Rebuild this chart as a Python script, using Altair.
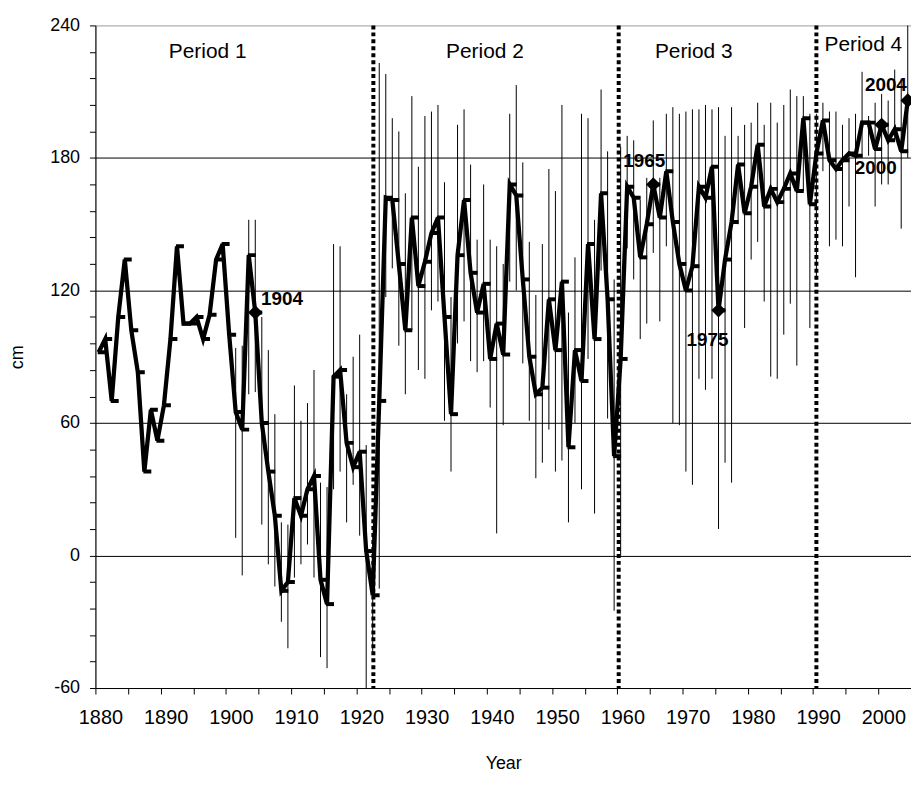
import altair as alt
import pandas as pd

# ---------------- data ----------------
years = list(range(1880, 2005))

level = [
    92, 98, 70, 108, 134, 102, 83, 38, 66, 52,          # 1880-1889
    68, 98, 140, 105, 105, 108, 98, 109, 134, 141,      # 1890-1899
    100, 65, 57, 136, 110, 60, 38, 18, -16, -12,        # 1900-1909
    26, 18, 30, 36, -11, -22, 81, 84, 51, 40,           # 1910-1919
    47, 2, -18, 70, 162, 161, 132, 102, 153, 122,       # 1920-1929
    133, 146, 153, 108, 64, 136, 161, 128, 110, 123,    # 1930-1939
    89, 105, 91, 168, 163, 125, 90, 73, 76, 116,        # 1940-1949
    93, 124, 49, 93, 79, 141, 98, 164, 116, 45,         # 1950-1959
    89, 167, 162, 135, 150, 168, 153, 174, 151, 132,    # 1960-1969
    120, 131, 167, 162, 176, 111, 134, 151, 177, 155,   # 1970-1979
    167, 186, 158, 166, 160, 166, 173, 165, 198, 159,   # 1980-1989
    182, 197, 179, 175, 179, 182, 181, 196, 196, 184,   # 1990-1999
    195, 188, 193, 183, 206,                            # 2000-2004
]

err_high = [None] * 21 + [
    94, 95, 152, 152, 108, 93, 64, 15, 14,              # 1901-1909
    77, 61, 69, 84, 33, 31, 141, 140, 73, 90,           # 1910-1919
    100, 50, 10, 223, 218, 198, 192, 164, 208, 176,     # 1920-1929
    199, 201, 204, 169, 117, 195, 202, 177, 143, 168,   # 1930-1939
    143, 140, 132, 200, 213, 178, 142, 118, 141, 175,   # 1940-1949
    165, 204, 110, 135, 200, 198, 152, 211, 183, 125,   # 1950-1959
    185, 190, 188, 161, 171, 197, 171, 200, 203, 200,   # 1960-1969
    201, 202, 202, 204, 202, 203, 190, 203, 190, 195,   # 1970-1979
    196, 205, 195, 205, 196, 204, 211, 208, 208, 200,   # 1980-1989
    200, 205, 201, 201, 195, 198, 200, 219, 199, 205,   # 1990-1999
    209, 206, 220, 216, 250,                            # 2000-2004
]

err_low = [None] * 21 + [
    8, -9, 73, 74, 14, -4, -14, -30, -42,               # 1901-1909
    -10, -4, 5, -10, -46, -51, 30, 38, 15, 32,          # 1910-1919
    9, -65, -45, -15, 117, 130, 95, 73, 102, 84,        # 1920-1929
    80, 111, 115, 61, 38, 96, 106, 88, 83, 88,          # 1930-1939
    67, 10, 59, 124, 120, 87, 61, 35, 42, 57,           # 1940-1949
    38, 43, 15, 60, 30, 89, 19, 129, 62, -25,           # 1950-1959
    0, 139, 125, 98, 105, 137, 106, 140, 60, 59,        # 1960-1969
    38, 32, 80, 75, 80, 12, 42, 33, 150, 103,           # 1970-1979
    134, 142, 115, 81, 80, 100, 114, 86, 165, 103,      # 1980-1989
    125, 174, 140, 143, 140, 158, 126, 180, 181, 158,   # 1990-1999
    168, 168, 188, 148, 180,                            # 2000-2004
]

highlight_years = [1904, 1965, 1975, 2000, 2004]
period_names = ["Period 1", "Period 2", "Period 3", "Period 4"]
period_label_x = [1897.2, 1939.7, 1971.7, 1997.7]
period_label_y = [228, 228, 228, 231]
period_breaks = [1922.6, 1960.2, 1990.5]

# ---------------- tables ----------------
df = pd.DataFrame({"year": years, "level": level, "low": err_low, "high": err_high})
df["xc"] = df["year"] + 0.5  # points sit in the middle of each yearly category
hl = df[df["year"].isin(highlight_years)].copy()
periods = pd.DataFrame({"name": period_names, "x": period_label_x, "y": period_label_y})
breaks = pd.DataFrame({"x": period_breaks})

FONT = "Liberation Sans"
xs = alt.Scale(domain=[1880, 2005], nice=False, zero=False)
ys = alt.Scale(domain=[-60, 240], nice=False, zero=False)

x_axis = alt.Axis(
    values=list(range(1880, 2006, 5)),
    labelExpr="datum.value % 10 === 0 ? '' + datum.value : ''",
    labelOffset=5,
    labelFlush=False,
    labelOverlap=False,
    labelFontSize=20,
    labelFont=FONT,
    labelColor="black",
    labelPadding=14,
    tickSize=6,
    tickColor="black",
    domainColor="black",
    grid=False,
    title="Year",
    titleFont=FONT,
    titleFontSize=18,
    titleFontWeight="normal",
    titleColor="black",
    titleY=76,
    titleBaseline="middle",
)
y_axis = alt.Axis(
    values=list(range(-60, 241, 12)),
    labelExpr="datum.value % 60 === 0 ? '' + datum.value : ''",
    labelFlush=False,
    labelOverlap=False,
    labelFontSize=18,
    labelFont=FONT,
    labelColor="black",
    labelPadding=10,
    tickSize=6,
    tickColor="black",
    domainColor="black",
    grid=True,
    gridColor="black",
    gridWidth=1,
    gridOpacity={"condition": {"test": "datum.value % 60 === 0 && datum.value > -60 && datum.value < 240", "value": 1}, "value": 0},
    title="cm",
    titleFont=FONT,
    titleFontSize=18,
    titleFontWeight="normal",
    titleColor="black",
    titleX=-78,
    titleBaseline="middle",
)

X = lambda f: alt.X(f, scale=xs, axis=x_axis)
Y = lambda f: alt.Y(f, scale=ys, axis=y_axis)

base = alt.Chart(df)

errbars = base.mark_rule(color="black", strokeWidth=1, clip=True).encode(
    x=X("xc:Q"), y=Y("low:Q"), y2="high:Q",
)

dotted = alt.Chart(breaks).mark_rule(color="black", strokeWidth=4, strokeDash=[4, 3]).encode(
    x=X("x:Q")
)

line = base.mark_line(color="black", strokeWidth=4.3, strokeJoin="miter", clip=True).encode(
    x=X("xc:Q"), y=Y("level:Q"),
)

dashes = base.mark_tick(color="black", orient="horizontal", thickness=4, size=8, xOffset=3, opacity=1, clip=True).encode(
    x=X("xc:Q"), y=Y("level:Q"),
)

diamonds = alt.Chart(hl).mark_point(shape="diamond", filled=True, size=210, color="black", opacity=1).encode(
    x=X("xc:Q"), y=Y("level:Q"),
)

label_offsets = {1904: (27, -14), 1965: (-9, -24), 1975: (-11, 30), 2000: (-6, 43), 2004: (-22, -16)}
labels = []
for yr, (dx, dy) in label_offsets.items():
    labels.append(
        alt.Chart(hl[hl["year"] == yr]).mark_text(
            font=FONT, fontSize=19, fontWeight="bold", color="black", dx=dx, dy=dy,
            align="center", baseline="middle",
        ).encode(
            x=X("xc:Q"), y=Y("level:Q"), text=alt.Text("year:N"),
        )
    )

period_text = alt.Chart(periods).mark_text(
    font=FONT, fontSize=21, color="black", align="center", baseline="middle"
).encode(
    x=X("x:Q"), y=Y("y:Q"), text="name:N",
)

chart = alt.layer(errbars, dotted, line, dashes, diamonds, period_text, *labels).properties(
    width=821,
    height=667,
    autosize=alt.AutoSizeParams(type="none"),
    padding={"left": 88, "top": 15, "right": 0, "bottom": 86},
    background="white",
).configure_view(stroke="#9a9a9a", strokeWidth=1)

chart.save("out.html", embed_options={"renderer": "svg", "actions": False})
